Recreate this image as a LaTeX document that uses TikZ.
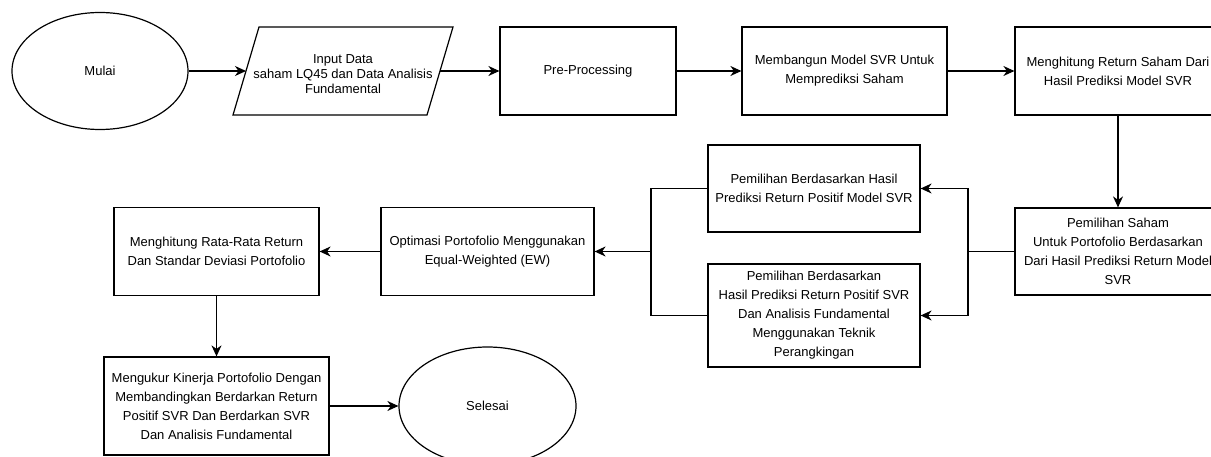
\documentclass[tikz,border=0pt]{standalone}
\usepackage{fontspec}
\setmainfont{Liberation Sans}
\usetikzlibrary{arrows.meta,shapes.geometric}
\begin{document}
\begin{tikzpicture}[x=1pt,y=-1pt, line width=1.2pt,
  box/.style={draw, rectangle, inner sep=0pt, align=center, font=\fontsize{13}{19}\selectfont},
  oval/.style={draw, ellipse, inner sep=0pt, font=\fontsize{13}{19}\selectfont},
  arr/.style={-{Stealth[length=11pt,width=10pt,inset=3.5pt]}},
]
\useasboundingbox (0,0) rectangle (1211,457);
% nodes
\node[oval, minimum width=176pt, minimum height=117pt] (mulai) at (100,71) {Mulai};
\draw (259,27) -- (453,27) -- (427,115) -- (233,115) -- cycle;
\coordinate (inL) at (246,71);
\coordinate (inR) at (440,71);
\node[align=center, inner sep=0pt, font=\fontsize{13}{15}\selectfont] (input) at (343,74) {Input Data\\saham LQ45 dan Data Analisis\\Fundamental};
\node[box, minimum width=176pt, minimum height=88pt] (pre) at (588,71) {Pre-Processing};
\node[box, minimum width=205pt, minimum height=88pt] (membangun) at (844.5,71) {Membangun Model SVR Untuk\\Memprediksi Saham};
\node[box, minimum width=206pt, minimum height=88pt] (hitret) at (1118,71) {Menghitung Return Saham Dari\\Hasil Prediksi Model SVR};
\node[box, minimum width=206pt, minimum height=87pt] (pilih) at (1118,251.5) {Pemilihan Saham\\Untuk Portofolio Berdasarkan\\Dari Hasil Prediksi Return Model\\SVR};
\node[box, minimum width=212pt, minimum height=87pt] (upper) at (814,188.5) {Pemilihan Berdasarkan Hasil\\Prediksi Return Positif Model SVR};
\node[box, minimum width=212pt, minimum height=103pt] (lower) at (814,315.5) {Pemilihan Berdasarkan\\Hasil Prediksi Return Positif SVR\\Dan Analisis Fundamental\\Menggunakan Teknik\\Perangkingan};
\node[box, minimum width=213pt, minimum height=88pt] (optim) at (487.5,251.5) {Optimasi Portofolio Menggunakan\\Equal-Weighted (EW)};
\node[box, minimum width=205pt, minimum height=88pt] (rata) at (216.5,251.5) {Menghitung Rata-Rata Return\\Dan Standar Deviasi Portofolio};
\node[box, minimum width=225pt, minimum height=98pt] (ukur) at (216.5,406) {Mengukur Kinerja Portofolio Dengan\\Membandingkan Berdarkan Return\\Positif SVR Dan Berdarkan SVR\\Dan Analisis Fundamental};
\node[oval, minimum width=177pt, minimum height=118pt] (selesai) at (487.5,406) {Selesai};
\coordinate (busR) at (968,251.5);
\coordinate (busL) at (651,251.5);
% connectors
\draw[arr] (mulai) -- (inL);
\draw[arr] (inR) -- (pre);
\draw[arr] (pre) -- (membangun);
\draw[arr] (membangun) -- (hitret);
\draw[arr] (hitret) -- (pilih);
\draw (pilih) -- (busR);
\draw[arr] (busR) |- (upper);
\draw[arr] (busR) |- (lower);
\draw (upper) -| (busL);
\draw (lower) -| (busL);
\draw[arr] (busL) -- (optim);
\draw[arr] (optim) -- (rata);
\draw[arr] (rata) -- (ukur);
\draw[arr] (ukur) -- (selesai);
\end{tikzpicture}
\end{document}
